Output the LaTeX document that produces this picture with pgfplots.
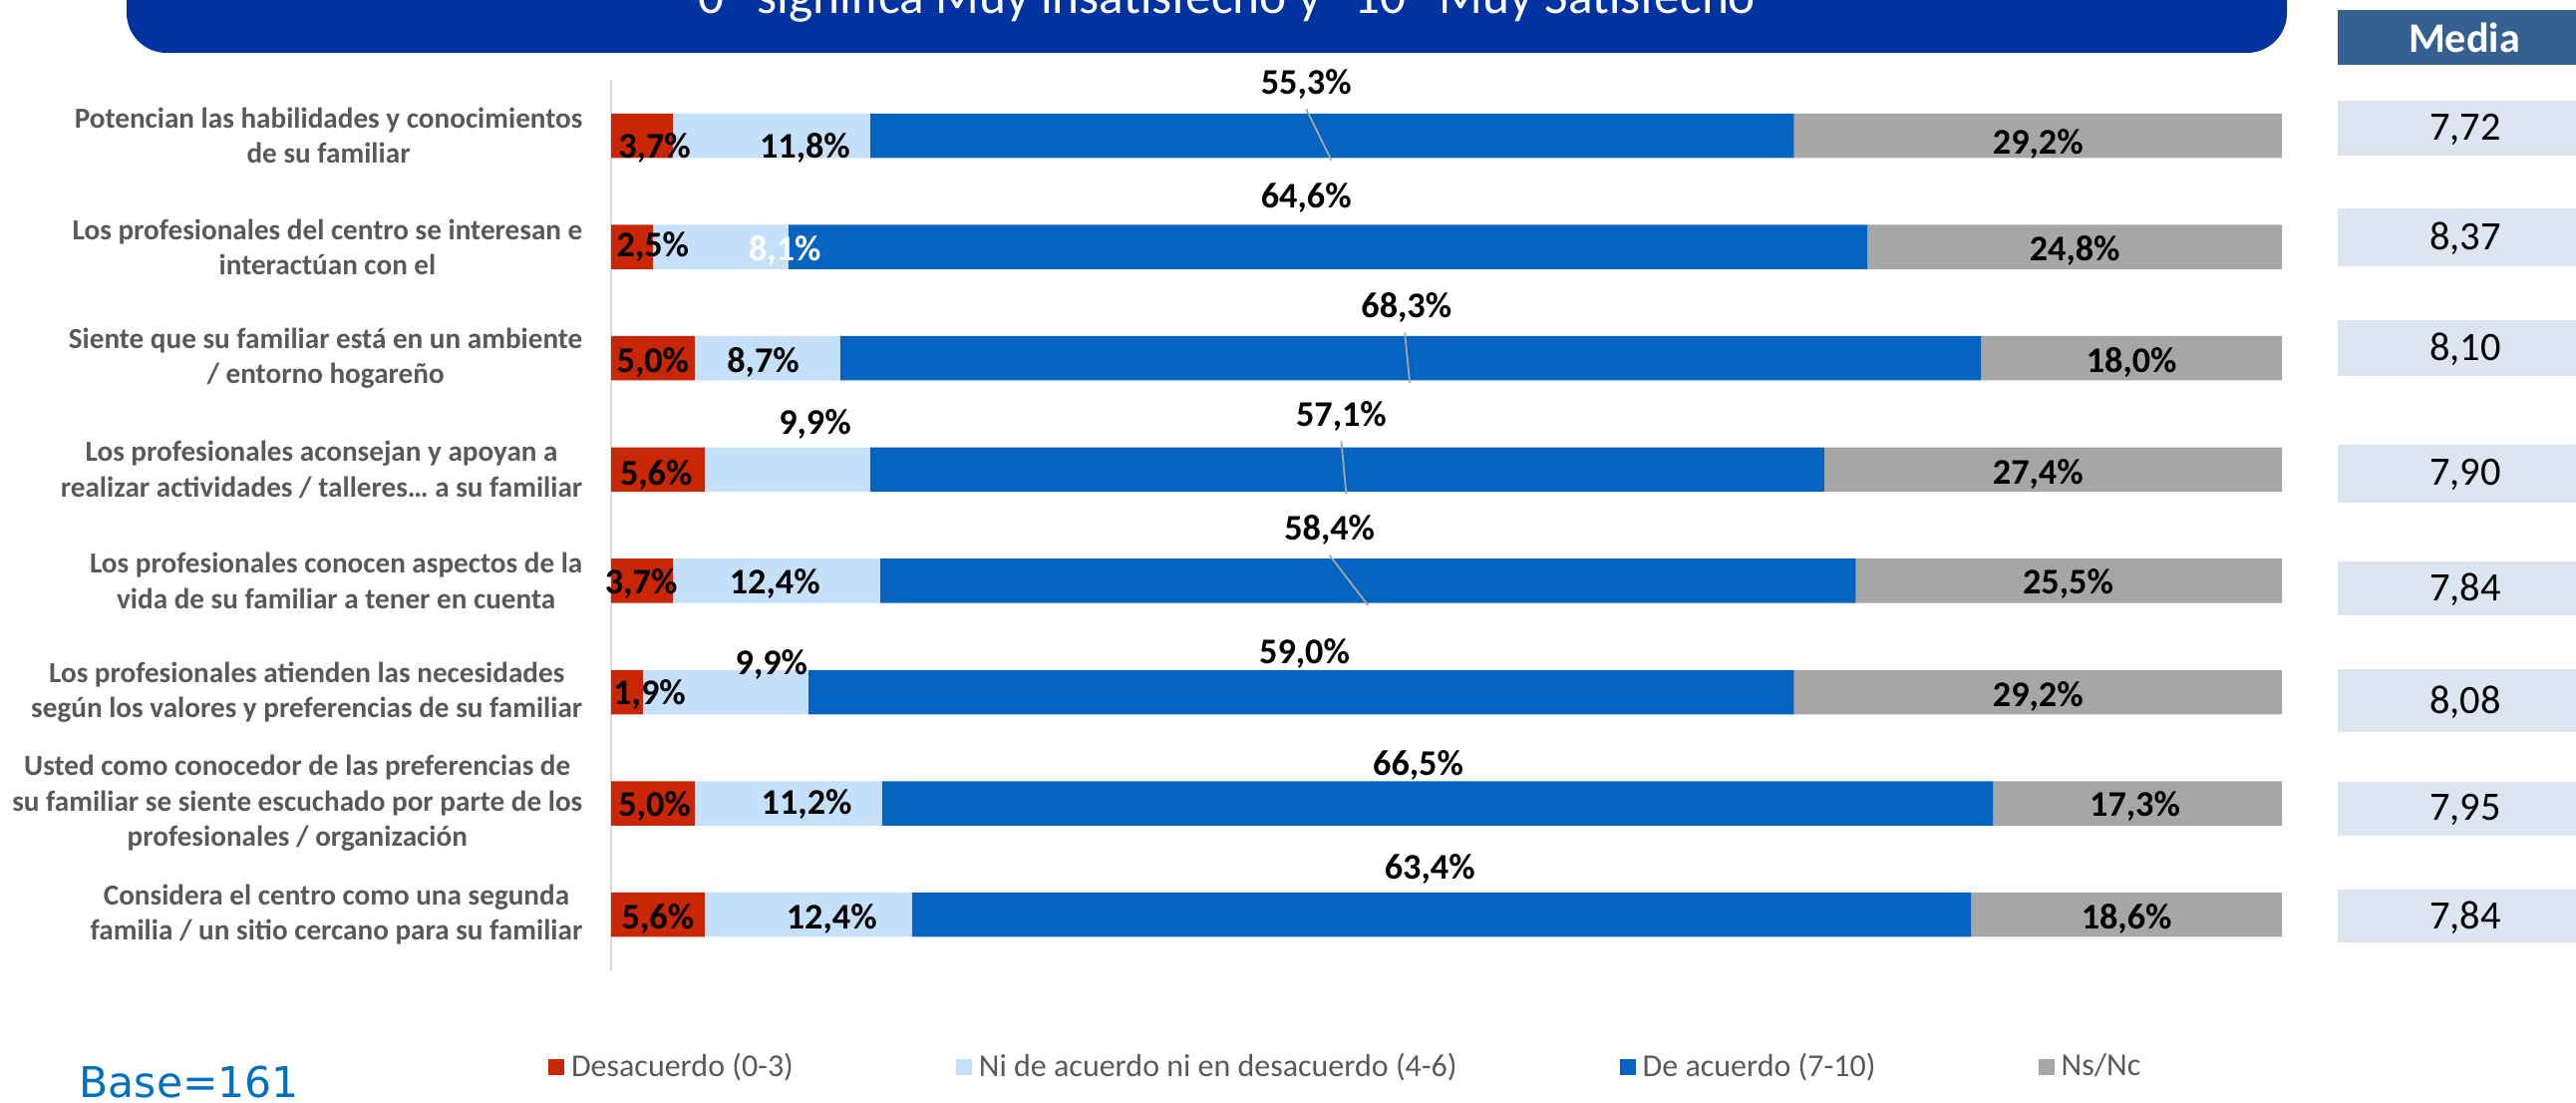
\documentclass[border=0pt]{standalone}
\usepackage{pgfplots}
\pgfplotsset{compat=1.18}
\usepackage{fontspec}
\setmainfont{Carlito}
\newfontfamily\dejavu{DejaVu Sans}
\definecolor{cred}{RGB}{200,38,4}
\definecolor{clight}{RGB}{197,224,250}
\definecolor{cblue}{RGB}{5,100,192}
\definecolor{cgray}{RGB}{166,166,166}
\definecolor{banner}{RGB}{0,51,160}
\definecolor{header}{RGB}{54,96,146}
\definecolor{mediabox}{RGB}{220,230,242}
\definecolor{labelgray}{RGB}{89,89,89}
\definecolor{baseblue}{RGB}{0,112,192}
\definecolor{axisgray}{RGB}{217,217,217}
\definecolor{leader}{RGB}{166,166,166}
\tikzset{lbl/.style={font=\bfseries\fontsize{10.3}{12}\selectfont, text=black, inner sep=0pt},
  mv/.style={font=\fontsize{11.5}{13}\selectfont, text=black}}
\begin{document}
\begin{tikzpicture}[x=1cm,y=1cm]
% banner
\fill[banner, rounded corners=0.4cm] (1.27,10.53) rectangle (22.94,11.8);
\node[anchor=base, text=white, font=\fontsize{14.6}{17}\selectfont, inner sep=0pt] at (12.2,10.92) {“0” significa Muy insatisfecho y “10” Muy Satisfecho};
% Media column
\fill[header] (23.45,10.41) rectangle (25.95,10.96);
\node[text=white, font=\bfseries\fontsize{12}{14}\selectfont] at (24.72,10.685) {Media};
\fill[mediabox] (23.45,9.50) rectangle (25.95,10.05); \node[mv] at (24.73,9.76) {7,72};
\fill[mediabox] (23.45,8.39) rectangle (25.95,8.97); \node[mv] at (24.73,8.67) {8,37};
\fill[mediabox] (23.45,7.29) rectangle (25.95,7.85); \node[mv] at (24.73,7.56) {8,10};
\fill[mediabox] (23.45,6.02) rectangle (25.95,6.60); \node[mv] at (24.73,6.30) {7,90};
\fill[mediabox] (23.45,4.89) rectangle (25.95,5.43); \node[mv] at (24.73,5.15) {7,84};
\fill[mediabox] (23.45,3.72) rectangle (25.95,4.35); \node[mv] at (24.73,4.02) {8,08};
\fill[mediabox] (23.45,2.68) rectangle (25.95,3.22); \node[mv] at (24.73,2.94) {7,95};
\fill[mediabox] (23.45,1.61) rectangle (25.95,2.14); \node[mv] at (24.73,1.86) {7,84};
% Base
\node[anchor=base west, inner sep=0pt, text=baseblue, font=\dejavu\fontsize{12.1}{14}\selectfont] at (0.79,0.05) {Base=161};
\begin{axis}[
  at={(6.13cm,1.33cm)}, anchor=south west,
  width=16.76cm, height=8.928cm, scale only axis,
  xbar stacked, bar width=0.445cm,
  xmin=0, xmax=100, ymin=0.5, ymax=8.5, y dir=reverse,
  axis x line=none, axis y line*=left,
  y axis line style={draw=axisgray, line width=0.8pt, -},
  ytick={1,2,3,4,5,6,7,8}, major tick length=0pt,
  yticklabels={
    {Potencian las habilidades y conocimientos\\de su familiar},
    {Los profesionales del centro se interesan e\\interactúan con el},
    {Siente que su familiar está en un ambiente\\/ entorno hogareño},
    {Los profesionales aconsejan y apoyan a\\realizar actividades / talleres… a su familiar},
    {Los profesionales conocen aspectos de la\\vida de su familiar a tener en cuenta},
    {Los profesionales atienden las necesidades\\según los valores y preferencias de su familiar},
    {Usted como conocedor de las preferencias de\\su familiar se siente escuchado por parte de los\\profesionales / organización},
    {Considera el centro como una segunda\\familia / un sitio cercano para su familiar}},
  yticklabel style={align=center, font=\bfseries\fontsize{8.3}{10.1}\selectfont, text=labelgray, inner sep=0pt, xshift=-0.28cm},
  clip=false,
  legend columns=4,
  legend image code/.code={\fill[#1] (0cm,-0.08cm) rectangle (0.16cm,0.08cm);},
  legend style={at={(axis description cs:-0.038,-0.1087)}, anchor=west, draw=none, fill=none, inner sep=0pt,
    font=\fontsize{9.1}{11}\selectfont, text=labelgray,
    /tikz/every even column/.append style={column sep=1.56cm}},
  legend cell align=left,
]
\addplot[fill=cred, draw=none] coordinates {(3.7,1) (2.5,2) (5.0,3) (5.6,4) (3.7,5) (1.9,6) (5.0,7) (5.6,8)};
\addlegendentry{Desacuerdo (0-3)}
\addplot[fill=clight, draw=none] coordinates {(11.8,1) (8.1,2) (8.7,3) (9.9,4) (12.4,5) (9.9,6) (11.2,7) (12.4,8)};
\addlegendentry{Ni de acuerdo ni en desacuerdo (4-6)}
\addplot[fill=cblue, draw=none] coordinates {(55.3,1) (64.6,2) (68.3,3) (57.1,4) (58.4,5) (59.0,6) (66.5,7) (63.4,8)};
\addlegendentry{De acuerdo (7-10)}
\addplot[fill=cgray, draw=none] coordinates {(29.2,1) (24.8,2) (18.0,3) (27.4,4) (25.5,5) (29.2,6) (17.3,7) (18.6,8)};
\addlegendentry{Ns/Nc}
% leader line ends
\coordinate (L1a) at (axis cs:41.6,0.76); \coordinate (L1b) at (axis cs:43.1,1.22);
\coordinate (L3a) at (axis cs:47.5,2.77); \coordinate (L3b) at (axis cs:47.8,3.22);
\coordinate (L4a) at (axis cs:43.7,3.745); \coordinate (L4b) at (axis cs:44.0,4.22);
\coordinate (L5a) at (axis cs:43.0,4.77); \coordinate (L5b) at (axis cs:45.3,5.22);
% label anchors: De acuerdo
\coordinate (d1) at (axis cs:41.6,0.534);
\coordinate (d2) at (axis cs:41.6,1.56);
\coordinate (d3) at (axis cs:47.6,2.543);
\coordinate (d4) at (axis cs:43.7,3.52);
\coordinate (d5) at (axis cs:43.0,4.543);
\coordinate (d6) at (axis cs:41.5,5.655);
\coordinate (d7) at (axis cs:48.3,6.66);
\coordinate (d8) at (axis cs:49.0,7.59);
% others
\coordinate (r1a) at (axis cs:2.6,1.11); \coordinate (r1b) at (axis cs:11.6,1.11); \coordinate (r1c) at (axis cs:85.4,1.08);
\coordinate (r2a) at (axis cs:2.5,2.0); \coordinate (r2b) at (axis cs:10.4,2.03); \coordinate (r2c) at (axis cs:87.6,2.03);
\coordinate (r3a) at (axis cs:2.5,3.04); \coordinate (r3b) at (axis cs:9.1,3.04); \coordinate (r3c) at (axis cs:91.0,3.04);
\coordinate (r4a) at (axis cs:2.7,4.05); \coordinate (r4b) at (axis cs:12.2,3.59); \coordinate (r4c) at (axis cs:85.4,4.04);
\coordinate (r5a) at (axis cs:1.8,5.03); \coordinate (r5b) at (axis cs:9.8,5.03); \coordinate (r5c) at (axis cs:87.2,5.03);
\coordinate (r6a) at (axis cs:2.3,6.02); \coordinate (r6b) at (axis cs:9.6,5.75); \coordinate (r6c) at (axis cs:85.4,6.04);
\coordinate (r7a) at (axis cs:2.6,7.03); \coordinate (r7b) at (axis cs:11.7,7.01); \coordinate (r7c) at (axis cs:91.2,7.03);
\coordinate (r8a) at (axis cs:2.8,8.04); \coordinate (r8b) at (axis cs:13.2,8.04); \coordinate (r8c) at (axis cs:90.7,8.04);
\end{axis}
% leader lines and labels on top of the bars
\draw[leader, line width=0.5pt] (L1a) -- (L1b);
\draw[leader, line width=0.5pt] (L3a) -- (L3b);
\draw[leader, line width=0.5pt] (L4a) -- (L4b);
\draw[leader, line width=0.5pt] (L5a) -- (L5b);
\node[lbl] at (d1) {55,3\%};
\node[lbl] at (d2) {64,6\%};
\node[lbl] at (d3) {68,3\%};
\node[lbl] at (d4) {57,1\%};
\node[lbl] at (d5) {58,4\%};
\node[lbl] at (d6) {59,0\%};
\node[lbl] at (d7) {66,5\%};
\node[lbl] at (d8) {63,4\%};
\node[lbl] at (r1a) {3,7\%}; \node[lbl] at (r1b) {11,8\%}; \node[lbl] at (r1c) {29,2\%};
\node[lbl] at (r2a) {2,5\%}; \node[lbl, text=white] at (r2b) {8,1\%}; \node[lbl] at (r2c) {24,8\%};
\node[lbl] at (r3a) {5,0\%}; \node[lbl] at (r3b) {8,7\%}; \node[lbl] at (r3c) {18,0\%};
\node[lbl] at (r4a) {5,6\%}; \node[lbl] at (r4b) {9,9\%}; \node[lbl] at (r4c) {27,4\%};
\node[lbl] at (r5a) {3,7\%}; \node[lbl] at (r5b) {12,4\%}; \node[lbl] at (r5c) {25,5\%};
\node[lbl] at (r6a) {1,9\%}; \node[lbl] at (r6b) {9,9\%}; \node[lbl] at (r6c) {29,2\%};
\node[lbl] at (r7a) {5,0\%}; \node[lbl] at (r7b) {11,2\%}; \node[lbl] at (r7c) {17,3\%};
\node[lbl] at (r8a) {5,6\%}; \node[lbl] at (r8b) {12,4\%}; \node[lbl] at (r8c) {18,6\%};
\pgfresetboundingbox
\useasboundingbox (0,0) rectangle (25.84,11.06);
\end{tikzpicture}
\end{document}
